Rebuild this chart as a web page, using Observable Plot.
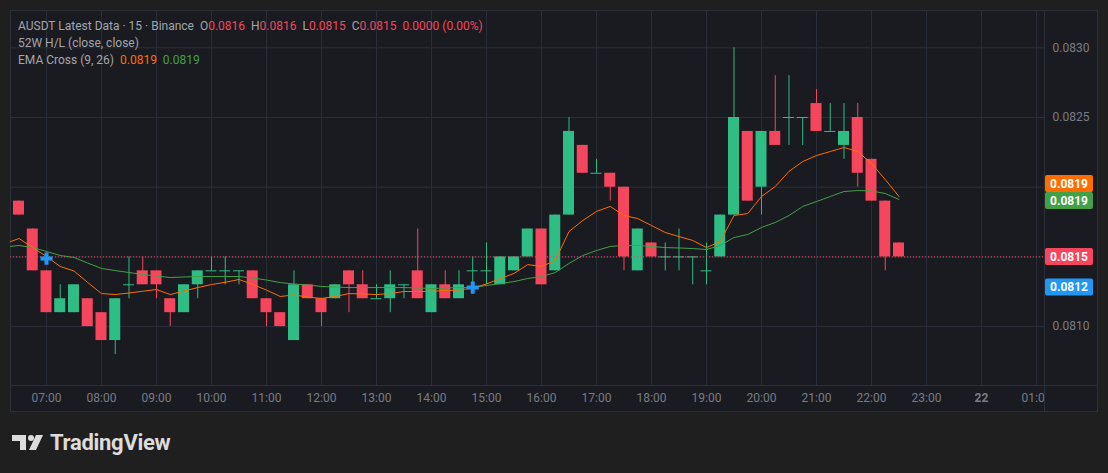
<!DOCTYPE html>
<html><head><meta charset="utf-8">
<script src="https://cdn.jsdelivr.net/npm/d3@7"></script>
<script src="https://cdn.jsdelivr.net/npm/@observablehq/plot@0.6"></script>
<style>
html,body{margin:0;padding:0;background:#1f1f1f;width:1108px;height:473px;overflow:hidden;font-family:Roboto,"Noto Sans",sans-serif;}
#panel{position:absolute;left:10px;top:10px;width:1088px;height:402px;background:#1a1b20;box-sizing:border-box;border:1px solid #2a2e39;}
#chart{position:absolute;left:10px;top:10px;}
#vsep{position:absolute;left:1044px;top:10px;width:1px;height:402px;background:#2a2e39;}
#hsep{position:absolute;left:10px;top:385px;width:1088px;height:1px;background:#2a2e39;}
#legend{position:absolute;left:18px;top:18px;font-size:12px;line-height:17px;color:#a3a6af;white-space:pre;}
#logo{position:absolute;left:12px;top:430px;display:flex;align-items:center;color:#dcdcdc;font-weight:bold;font-size:22px;letter-spacing:-0.3px;}
</style></head><body>
<div id="panel"></div>
<div id="chart"></div>
<div id="vsep"></div>
<div id="hsep"></div>
<div id="legend"></div>
<div id="logo"><svg width="36" height="18" viewBox="0 0 36 18"><path d="M0 1h14v15h-6V7H0z" fill="#dcdcdc"/><circle cx="19" cy="4" r="3" fill="#dcdcdc"/><path d="M24 1h7l-7 15h-7z" fill="#dcdcdc"/></svg><span style="margin-left:2px">TradingView</span></div>
<script>
// ---- data ----
const symbolTitle = "AUSDT Latest Data · 15 · Binance";
const day = "2024-05-21";
const times = ["06:30","06:45","07:00","07:15","07:30","07:45","08:00","08:15","08:30","08:45",
"09:00","09:15","09:30","09:45","10:00","10:15","10:30","10:45","11:00","11:15",
"11:30","11:45","12:00","12:15","12:30","12:45","13:00","13:15","13:30","13:45",
"14:00","14:15","14:30","14:45","15:00","15:15","15:30","15:45","16:00","16:15",
"16:30","16:45","17:00","17:15","17:30","17:45","18:00","18:15","18:30","18:45",
"19:00","19:15","19:30","19:45","20:00","20:15","20:30","20:45","21:00","21:15",
"21:30","21:45","22:00","22:15","22:30"];
const open = [0.0819,0.0817,0.0814,0.0811,0.0811,0.0812,0.0811,0.0809,0.0813,0.0814,
0.0814,0.0812,0.0811,0.0813,0.0814,0.0814,0.0814,0.0814,0.0812,0.0811,
0.0809,0.0813,0.0812,0.0812,0.0814,0.0813,0.0812,0.0812,0.0813,0.0814,
0.0811,0.0813,0.0812,0.0814,0.0814,0.0813,0.0814,0.0815,0.0817,0.0814,
0.0818,0.0823,0.0821,0.0821,0.0820,0.0814,0.0816,0.0815,0.0815,0.0815,
0.0814,0.0815,0.0818,0.0824,0.0820,0.0824,0.0825,0.0825,0.0826,0.0824,
0.0823,0.0825,0.0822,0.0819,0.0816];
const high = [0.0819,0.0817,0.0814,0.0813,0.0813,0.0812,0.0811,0.0812,0.0815,0.0815,
0.0814,0.0812,0.0813,0.0814,0.0815,0.0815,0.0814,0.0814,0.0812,0.0811,
0.0814,0.0813,0.0812,0.0813,0.0814,0.0814,0.0813,0.0814,0.0813,0.0817,
0.0813,0.0814,0.0814,0.0815,0.0816,0.0815,0.0815,0.0817,0.0817,0.0818,
0.0825,0.0823,0.0822,0.0821,0.0820,0.0817,0.0816,0.0816,0.0817,0.0815,
0.0816,0.0818,0.0830,0.0824,0.0824,0.0828,0.0828,0.0825,0.0827,0.0826,
0.0826,0.0826,0.0822,0.0819,0.0816];
const low = [0.0818,0.0814,0.0811,0.0811,0.0811,0.0810,0.0809,0.0808,0.0812,0.0813,
0.0812,0.0810,0.0811,0.0812,0.0814,0.0813,0.0813,0.0812,0.0810,0.0810,
0.0809,0.0812,0.0810,0.0812,0.0811,0.0812,0.0812,0.0811,0.0812,0.0812,
0.0811,0.0812,0.0812,0.0813,0.0813,0.0813,0.0814,0.0815,0.0813,0.0814,
0.0818,0.0821,0.0821,0.0819,0.0814,0.0814,0.0815,0.0814,0.0814,0.0813,
0.0813,0.0815,0.0818,0.0819,0.0818,0.0823,0.0823,0.0823,0.0824,0.0824,
0.0822,0.0820,0.0819,0.0814,0.0815];
const close = [0.0818,0.0814,0.0811,0.0812,0.0813,0.0810,0.0809,0.0812,0.0813,0.0813,
0.0813,0.0811,0.0813,0.0814,0.0814,0.0814,0.0814,0.0812,0.0811,0.0810,
0.0813,0.0812,0.0811,0.0813,0.0813,0.0812,0.0812,0.0813,0.0813,0.0812,
0.0813,0.0812,0.0813,0.0814,0.0814,0.0815,0.0815,0.0817,0.0813,0.0818,
0.0824,0.0821,0.0821,0.0820,0.0815,0.0817,0.0815,0.0815,0.0815,0.0815,
0.0814,0.0818,0.0825,0.0819,0.0824,0.0823,0.0825,0.0825,0.0824,0.0824,
0.0824,0.0821,0.0819,0.0815,0.0815];
// EMA lines, first value belongs to the 06:15 bar (off-frame)
const emaTimes = ["06:15"].concat(times);
const ema9 = [0.081596,0.081632,0.081567,0.081503,0.081431,0.081399,0.081316,0.081237,0.081230,0.081241,0.081254,
0.081266,0.081230,0.081255,0.081280,0.081302,0.081318,0.081338,0.081302,0.081262,0.081216,
0.081227,0.081212,0.081202,0.081216,0.081237,0.081234,0.081230,0.081237,0.081252,0.081252,
0.081253,0.081259,0.081262,0.081277,0.081306,0.081345,0.081381,0.081445,0.081431,0.081474,
0.081682,0.081761,0.081826,0.081862,0.081797,0.081775,0.081725,0.081675,0.081646,0.081618,
0.081567,0.081610,0.081797,0.081811,0.081933,0.082005,0.082113,0.082184,0.082227,0.082256,
0.082285,0.082256,0.082170,0.082055,0.081933];
const ema26 = [0.081571,0.081582,0.081567,0.081539,0.081510,0.081496,0.081456,0.081417,0.081402,0.081388,0.081374,
0.081363,0.081352,0.081356,0.081359,0.081359,0.081359,0.081359,0.081349,0.081334,0.081316,
0.081306,0.081298,0.081288,0.081284,0.081280,0.081280,0.081280,0.081280,0.081280,0.081277,
0.081273,0.081277,0.081280,0.081280,0.081295,0.081309,0.081323,0.081345,0.081359,0.081388,
0.081453,0.081510,0.081546,0.081575,0.081582,0.081582,0.081575,0.081567,0.081564,0.081560,
0.081553,0.081582,0.081639,0.081661,0.081711,0.081747,0.081797,0.081862,0.081897,0.081933,
0.081969,0.081976,0.081973,0.081955,0.081912];
const crossTimes = ["07:00","14:45"];
const crossValues = [0.081488,0.08128];
const yGrid = [0.0810,0.0815,0.0820,0.0825,0.0830];
const yTickLabels = [0.0810,0.0825,0.0830];

// ---- colors ----
const UP = "#2ebd85", DOWN = "#f6465d", ORANGE = "#ff6d00", GREEN = "#43a047", BLUE = "#2196f3";
const GRID = "#2a2e39", AXIS = "#787b86";

const T = s => new Date(`${day}T${s}:00Z`);
const HALF = 6 * 60e3;
const candles = times.map((t, i) => ({t: T(t), o: open[i], h: high[i], l: low[i], c: close[i], up: close[i] >= open[i]}));
const bodies = candles.filter(d => d.o !== d.c);
const dojis = candles.filter(d => d.o === d.c);
const emaData = emaTimes.map((t, i) => ({t: T(t), e9: ema9[i], e26: ema26[i]}));
const crosses = crossTimes.map((t, i) => ({t: T(t), v: crossValues[i]}));
const last = candles[candles.length - 1];
const hourTicks = d3.utcHour.range(T("07:00"), new Date("2024-05-22T01:30:00Z"));

const plot = Plot.plot({
  width: 1088, height: 402,
  marginTop: 0, marginLeft: 0, marginRight: 54, marginBottom: 27,
  style: {background: "transparent", fontFamily: "Roboto, 'Noto Sans', sans-serif", fontSize: "12px"},
  x: {type: "utc", domain: [new Date(`${day}T06:20:44Z`), new Date("2024-05-22T01:08:44Z")]},
  y: {domain: [0.0805775, 0.0832676]},
  marks: [
    Plot.gridX(hourTicks, {stroke: GRID, strokeOpacity: 1}),
    Plot.gridY(yGrid, {stroke: GRID, strokeOpacity: 1}),
    Plot.axisX(hourTicks, {
      label: null, tickSize: 0, tickPadding: 8, color: AXIS, fontSize: 12,
      tickFormat: d => d.getUTCHours() === 0 ? String(d.getUTCDate()) : d3.utcFormat("%H:%M")(d)
    }),
    Plot.axisY(yTickLabels, {label: null, anchor: "right", tickSize: 0, tickPadding: 8, color: AXIS, fontSize: 12, tickFormat: d => d.toFixed(4)}),
    Plot.ruleX(candles, {x: "t", y1: "l", y2: "h", stroke: d => d.up ? UP : DOWN, strokeWidth: 1}),
    Plot.rect(bodies, {x1: d => new Date(+d.t - HALF), x2: d => new Date(+d.t + HALF), y1: d => Math.min(d.o, d.c), y2: d => Math.max(d.o, d.c), fill: d => d.up ? UP : DOWN}),
    Plot.ruleY(dojis, {y: "o", x1: d => new Date(+d.t - HALF), x2: d => new Date(+d.t + HALF), stroke: UP, strokeWidth: 1}),
    Plot.line(emaData, {x: "t", y: "e26", stroke: GREEN, strokeWidth: 1, clip: true}),
    Plot.line(emaData, {x: "t", y: "e9", stroke: ORANGE, strokeWidth: 1, clip: true}),
    Plot.ruleY([last.c], {stroke: DOWN, strokeWidth: 1, strokeDasharray: "1,2"}),
    Plot.dot(crosses, {x: "t", y: "v", symbol: "plus", r: 4, stroke: BLUE, strokeWidth: 4, strokeLinecap: "butt", fill: "none"})
  ]
});
document.getElementById("chart").appendChild(plot);

// clip x-axis labels to the plot width, as the price scale covers them
const svg = d3.select(plot);
const ys = plot.scale("y");
svg.append("defs").append("clipPath").attr("id", "xclip").append("rect").attr("x", 0).attr("y", 0).attr("width", 1034).attr("height", 402);
svg.selectAll('g[aria-label="x-axis tick label"]').attr("clip-path", "url(#xclip)")
  .selectAll("text").filter(function(){return /^\d+$/.test(this.textContent);}).attr("font-weight", "bold");

// price labels on the right scale
const trunc = v => (Math.floor(v * 1e4 + 1e-6) / 1e4).toFixed(4);
const e9last = ema9[ema9.length - 1], e26last = ema26[ema26.length - 1];
const cLast = crosses[crosses.length - 1];
const yG = ys.apply(e26last) + 1.5;
const labels = [
  {v: e9last, y: yG - 17, color: ORANGE},
  {v: e26last, y: yG, color: GREEN},
  {v: last.c, y: ys.apply(last.c), color: DOWN},
  {v: cLast.v, y: ys.apply(cLast.v), color: BLUE}
];
const lg = svg.append("g");
labels.forEach(l => {
  lg.append("rect").attr("x", 1035).attr("y", l.y - 8.5).attr("width", 48).attr("height", 17).attr("rx", 2).attr("fill", l.color);
  lg.append("text").attr("x", 1059).attr("y", l.y).attr("dy", "0.35em").attr("text-anchor", "middle")
    .attr("fill", "#ffffff").attr("font-weight", "bold").attr("font-size", 12).text(trunc(l.v));
});

// legend text
const chg = last.c - close[close.length - 2];
const f = v => v.toFixed(4);
document.getElementById("legend").innerHTML =
  `<div>${symbolTitle}  O<span style="color:${DOWN}">${f(last.o)}</span>  H<span style="color:${DOWN}">${f(last.h)}</span>  L<span style="color:${DOWN}">${f(last.l)}</span>  C<span style="color:${DOWN}">${f(last.c)}</span>  <span style="color:${DOWN}">${f(chg)} (${(chg / close[close.length - 2] * 100).toFixed(2)}%)</span></div>` +
  `<div>52W H/L (close, close)</div>` +
  `<div>EMA Cross (9, 26)  <span style="color:${ORANGE}">${trunc(e9last)}</span>  <span style="color:${GREEN}">${trunc(e26last)}</span></div>`;
</script>
</body></html>
